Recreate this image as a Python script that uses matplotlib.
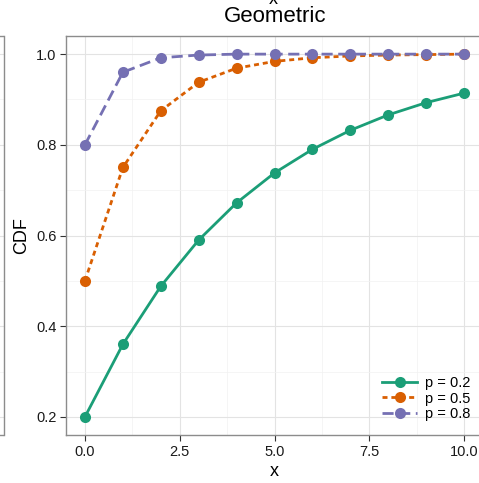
import matplotlib
matplotlib.use("Agg")
from matplotlib import pyplot as plt

plt.rcParams['font.family'] = ['Liberation Sans', 'DejaVu Sans']

x = [0, 1, 2, 3, 4, 5, 6, 7, 8, 9, 10]
cdf_02 = [0.200, 0.360, 0.488, 0.590, 0.672, 0.738, 0.790, 0.832, 0.866, 0.893, 0.914]
cdf_05 = [0.500, 0.750, 0.875, 0.938, 0.969, 0.984, 0.992, 0.996, 0.998, 0.999, 1.000]
cdf_08 = [0.800, 0.960, 0.992, 0.998, 1.000, 1.000, 1.000, 1.000, 1.000, 1.000, 1.000]
labels = ["p = 0.2", "p = 0.5", "p = 0.8"]
xticks = [0.0, 2.5, 5.0, 7.5, 10.0]
yticks = [0.2, 0.4, 0.6, 0.8, 1.0]

colors = ["#1B9E77", "#D95F02", "#7570B3"]
dashes = [None, (1.8, 1.4), (4.0, 2.0)]

W, H = 479, 483
fig = plt.figure(figsize=(W / 100, H / 100), dpi=100)

def px_axes(x0, x1, ytop, ybot):
    return fig.add_axes([x0 / W, (H - ybot) / H, (x1 - x0) / W, (ybot - ytop) / H])

def style(ax):
    ax.set_facecolor("white")
    for s in ax.spines.values():
        s.set_color("#8c8c8c")
        s.set_linewidth(1.0)
    ax.set_xlim(-0.5, 10.5)
    ax.set_ylim(0.16, 1.04)
    ax.set_xticks([1.25, 3.75, 6.25, 8.75], minor=True)
    ax.set_yticks([0.3, 0.5, 0.7, 0.9], minor=True)
    ax.grid(True, which="major", color="#e3e3e3", linewidth=0.8)
    ax.grid(True, which="minor", color="#f2f2f2", linewidth=0.5)
    ax.set_axisbelow(True)

# fragment of the neighbouring panel on the left
ax0 = px_axes(-400, 3.5, 36, 435)
style(ax0)
ax0.set_xticks(xticks)
ax0.set_yticks(yticks)
ax0.tick_params(which="both", length=0, labelleft=False, labelbottom=False)

ax = px_axes(66, 483, 36, 435)
style(ax)

series = [cdf_02, cdf_05, cdf_08]
handles = []
for ys, c, d, lab in zip(series, colors, dashes, labels):
    line, = ax.plot(x, ys, color=c, linewidth=2.0, marker="o", markersize=8,
                    markeredgewidth=0, label=lab)
    if d is not None:
        line.set_dashes(d)
    handles.append(line)

ax.set_xticks(xticks)
ax.set_xticklabels([f"{v:.1f}" for v in xticks])
ax.set_yticks(yticks)
ax.set_yticklabels([f"{v:.1f}" for v in yticks])
ax.tick_params(which="major", length=4, width=0.8, color="#333333",
               labelsize=10.5, labelcolor="#1a1a1a", pad=3)
ax.tick_params(which="minor", length=0)

ax.set_xlabel("x", fontsize=13, labelpad=3)
ax.set_ylabel("CDF", fontsize=13, labelpad=4)
fig.text(275 / W, 1 - 17 / H, "Geometric", ha="center", va="center", fontsize=16)
fig.text(273 / W, 1 - 4 / H, "x", ha="center", va="baseline", fontsize=13)

leg = ax.legend(handles=handles, loc="lower right", bbox_to_anchor=(1 - 13 / 417, 14 / 399),
                frameon=False, fontsize=10.5, handlelength=2.4, handletextpad=0.5,
                labelspacing=0.1, borderpad=0, borderaxespad=0)

fig.savefig("out.png", dpi=100)
